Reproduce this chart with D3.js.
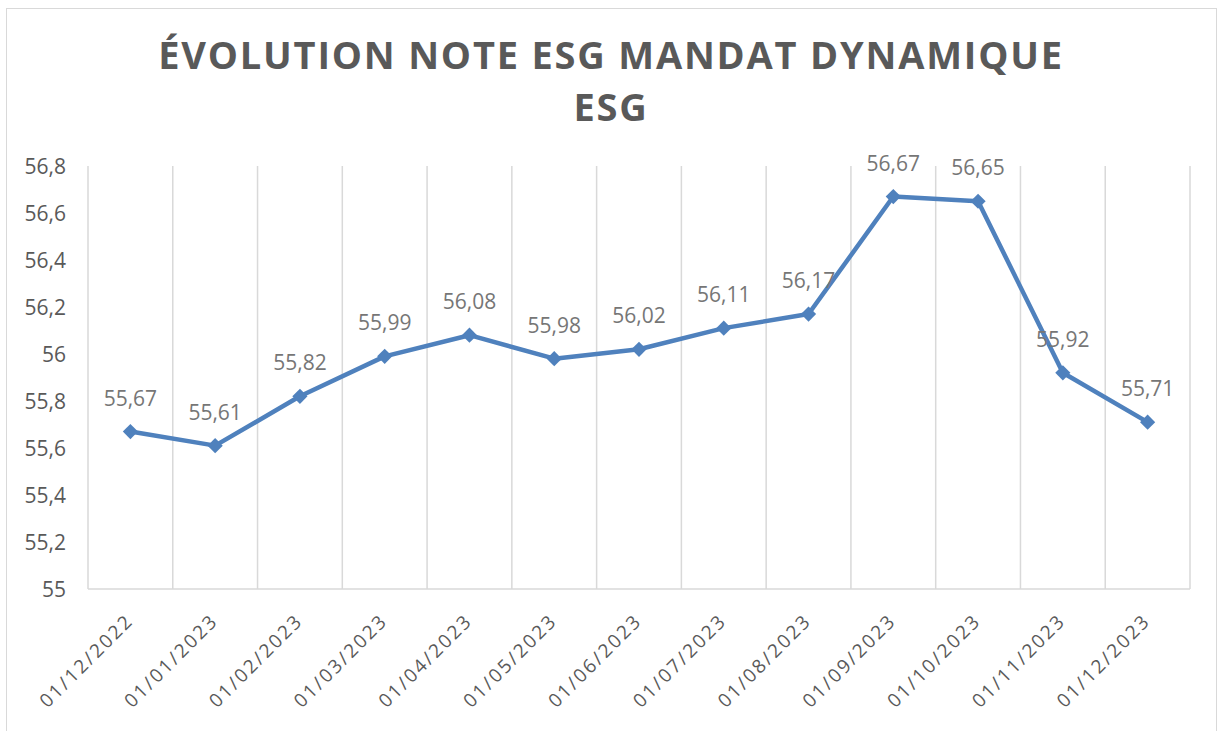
<!DOCTYPE html>
<html>
<head>
  <meta charset="utf-8">
  <title>Evolution note ESG</title>
  <style>
    body { margin: 0; background: #fff; }
    text { font-family: "Open Sans", "Noto Sans", sans-serif; }
  </style>
</head>
<body>
  <svg width="1219" height="731"></svg>
  <script src="https://d3js.org/d3.v7.min.js"></script>
  <script>
  // data
  var dates = ["01/12/2022", "01/01/2023", "01/02/2023", "01/03/2023", "01/04/2023",
    "01/05/2023", "01/06/2023", "01/07/2023", "01/08/2023", "01/09/2023",
    "01/10/2023", "01/11/2023", "01/12/2023"];
  var notes = [55.67, 55.61, 55.82, 55.99, 56.08, 55.98, 56.02, 56.11, 56.17, 56.67, 56.65, 55.92, 55.71];
  var yTicks = [55, 55.2, 55.4, 55.6, 55.8, 56, 56.2, 56.4, 56.6, 56.8];
  var titleLines = ["ÉVOLUTION NOTE ESG MANDAT DYNAMIQUE", "ESG"];

  var svg = d3.select("svg");
  var margin = {left: 88, right: 29, top: 166, bottom: 142};
  var width = 1219, height = 731;
  var fr = function(v) { return String(v).replace(".", ","); };

  // chart frame
  svg.append("rect")
    .attr("x", 6.5).attr("y", 8.5)
    .attr("width", 1210).attr("height", 740)
    .attr("fill", "#fff").attr("stroke", "#d9d9d9").attr("stroke-width", 1);

  // title
  svg.selectAll("text.title")
    .data(titleLines)
    .enter().append("text")
    .attr("class", "title")
    .attr("x", 611)
    .attr("y", function(d, i) { return 69 + i * 52; })
    .attr("text-anchor", "middle")
    .attr("font-size", 38)
    .attr("font-weight", "bold")
    .attr("letter-spacing", 1.8)
    .attr("fill", "#595959")
    .text(function(d) { return d; });

  // scales
  var x = d3.scaleBand()
    .domain(dates)
    .range([margin.left, width - margin.right]);
  var y = d3.scaleLinear()
    .domain([55, 56.8])
    .range([height - margin.bottom, margin.top]);

  // vertical gridlines between categories
  var gridX = dates.map(function(d) { return x(d); }).concat([x.range()[1]]);
  svg.selectAll("line.grid")
    .data(gridX)
    .enter().append("line")
    .attr("class", "grid")
    .attr("x1", function(d) { return d; })
    .attr("x2", function(d) { return d; })
    .attr("y1", y(56.8))
    .attr("y2", y(55))
    .attr("stroke", "#d9d9d9")
    .attr("stroke-width", 1.5);

  // x axis line
  svg.append("line")
    .attr("x1", x.range()[0]).attr("x2", x.range()[1])
    .attr("y1", y(55)).attr("y2", y(55))
    .attr("stroke", "#d9d9d9").attr("stroke-width", 1.5);

  // y labels
  var yAxis = svg.append("g")
    .attr("transform", "translate(" + (margin.left - 22) + ",0)")
    .call(d3.axisLeft(y).tickValues(yTicks).tickSize(0).tickPadding(0)
      .tickFormat(function(d) { return fr(+d.toFixed(1)); }));
  yAxis.select(".domain").remove();
  yAxis.selectAll("text")
    .attr("font-size", 21)
    .attr("font-family", "Open Sans")
    .attr("fill", "#595959")
    .attr("dy", "0.36em");

  // x labels
  var xAxis = svg.append("g")
    .attr("transform", "translate(0," + y(55) + ")")
    .call(d3.axisBottom(x).tickSize(0).tickPadding(0));
  xAxis.select(".domain").remove();
  xAxis.selectAll("text")
    .attr("font-size", 19)
    .attr("font-family", "Open Sans")
    .attr("letter-spacing", 2.2)
    .attr("fill", "#595959")
    .attr("text-anchor", "end")
    .attr("dy", 0)
    .attr("transform", "translate(4,33) rotate(-45)");

  // line
  var cx = function(d, i) { return x(dates[i]) + x.bandwidth() / 2; };
  svg.append("path")
    .datum(notes)
    .attr("fill", "none")
    .attr("stroke", "#4f81bd")
    .attr("stroke-width", 4.5)
    .attr("stroke-linejoin", "round")
    .attr("d", d3.line().x(cx).y(function(d) { return y(d); }));

  // diamond markers
  svg.selectAll("path.mark")
    .data(notes)
    .enter().append("path")
    .attr("class", "mark")
    .attr("d", d3.symbol().type(d3.symbolSquare).size(115))
    .attr("fill", "#4f81bd")
    .attr("transform", function(d, i) {
      return "translate(" + cx(d, i) + "," + y(d) + ") rotate(45)";
    });

  // data labels
  svg.selectAll("text.lbl")
    .data(notes)
    .enter().append("text")
    .attr("class", "lbl")
    .attr("x", cx)
    .attr("y", function(d) { return y(d) - 26; })
    .attr("text-anchor", "middle")
    .attr("font-size", 21)
    .attr("fill", "#767676")
    .text(fr);
  </script>
</body>
</html>
